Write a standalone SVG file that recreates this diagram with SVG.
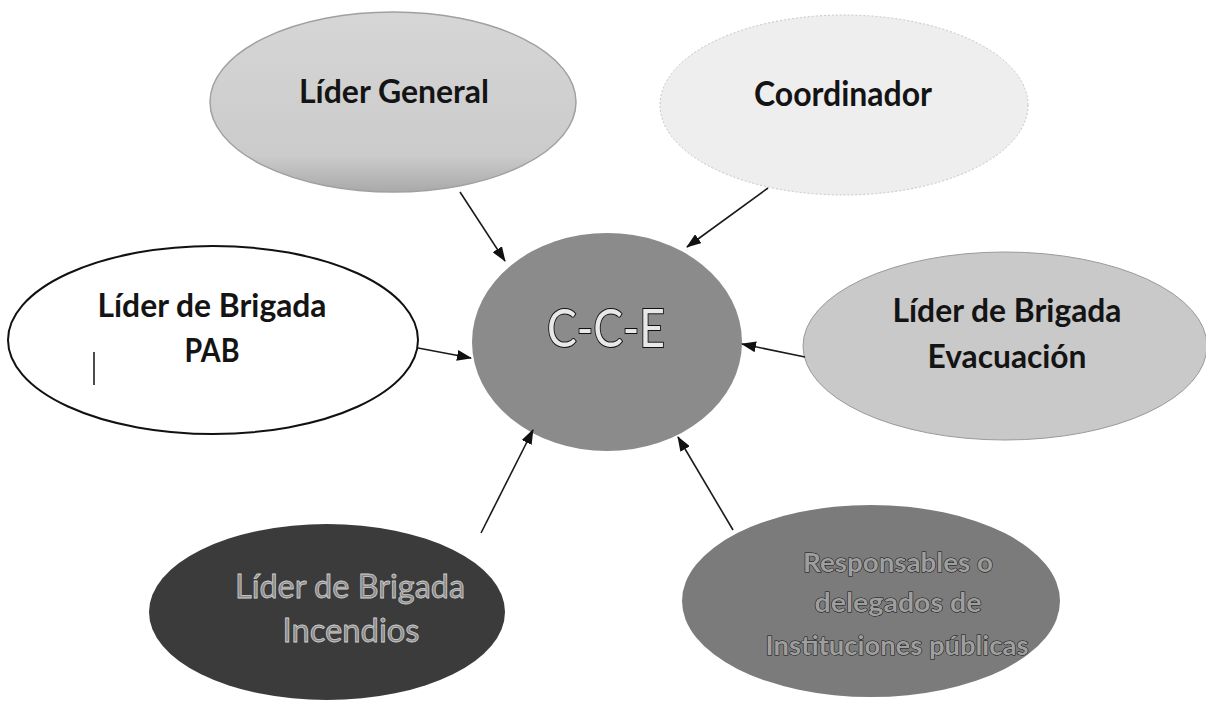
<svg xmlns="http://www.w3.org/2000/svg" width="1206" height="713" viewBox="0 0 1206 713">
<defs>
<marker id="ah" viewBox="0 0 15 11" refX="14" refY="5.5" markerWidth="15" markerHeight="11" markerUnits="userSpaceOnUse" orient="auto">
<path d="M0,0 L15,5.5 L0,11 z" fill="#111"/>
</marker>
<linearGradient id="gGen" x1="0" y1="0" x2="0" y2="1">
<stop offset="0" stop-color="#d6d6d6"/>
<stop offset="0.8" stop-color="#cbcbcb"/>
<stop offset="1" stop-color="#a9a9a9"/>
</linearGradient>
<style>
.lbl{font-family:Lato,"Open Sans","Liberation Sans",sans-serif;font-weight:bold;text-anchor:middle;}
.dark{fill:#141414;}
.outl{stroke:#111;stroke-width:1;paint-order:stroke;}
.conn line{stroke:#1a1a1a;stroke-width:1.6;marker-end:url(#ah);}
</style>
</defs>
<rect width="1206" height="713" fill="#ffffff"/>
<g id="lider-general">
<ellipse cx="393" cy="102" rx="183" ry="90" fill="url(#gGen)" stroke="#a0a0a0" stroke-width="1.5"/>
<text class="lbl dark" x="394" y="103" font-size="33" textLength="190" lengthAdjust="spacingAndGlyphs">Líder General</text>
</g>
<g id="coordinador">
<ellipse cx="844" cy="105" rx="184" ry="90" fill="#eeeeee" stroke="#c4c4c4" stroke-width="1" stroke-dasharray="2 2"/>
<text class="lbl dark" x="843" y="106" font-size="34" textLength="178" lengthAdjust="spacingAndGlyphs">Coordinador</text>
</g>
<g id="lider-pab">
<ellipse cx="213" cy="340" rx="205" ry="94" fill="#ffffff" stroke="#111" stroke-width="2"/>
<text class="lbl dark" x="212" y="317" font-size="33" textLength="229" lengthAdjust="spacingAndGlyphs">Líder de Brigada</text>
<text class="lbl dark" x="212" y="362" font-size="33" textLength="55" lengthAdjust="spacingAndGlyphs">PAB</text>
<line x1="94" y1="352" x2="94" y2="385" stroke="#111" stroke-width="1.5"/>
</g>
<g id="cce">
<ellipse cx="607" cy="342" rx="135" ry="109" fill="#8b8b8b"/>
<text class="lbl" x="606" y="347" font-size="52" fill="#e8e8e8" stroke="#111" stroke-width="2" paint-order="stroke" textLength="118" lengthAdjust="spacingAndGlyphs" style="font-weight:normal">C-C-E</text>
</g>
<g id="lider-evacuacion">
<ellipse cx="1005" cy="346" rx="202" ry="94" fill="#c9c9c9" stroke="#9a9a9a" stroke-width="1"/>
<text class="lbl dark" x="1007" y="322" font-size="33" textLength="229" lengthAdjust="spacingAndGlyphs">Líder de Brigada</text>
<text class="lbl dark" x="1007" y="368" font-size="33" textLength="159" lengthAdjust="spacingAndGlyphs">Evacuación</text>
</g>
<g id="lider-incendios">
<ellipse cx="327" cy="612" rx="178" ry="88" fill="#3b3b3b"/>
<text class="lbl" x="350" y="598" font-size="33" fill="#8a8a8a" stroke="#d0d0d0" stroke-width="0.8" textLength="230" lengthAdjust="spacingAndGlyphs" style="font-weight:normal">Líder de Brigada</text>
<text class="lbl" x="351" y="642" font-size="33" fill="#8a8a8a" stroke="#d0d0d0" stroke-width="0.8" textLength="137" lengthAdjust="spacingAndGlyphs" style="font-weight:normal">Incendios</text>
</g>
<g id="responsables">
<ellipse cx="871" cy="601" rx="189" ry="96" fill="#7b7b7b"/>
<text class="lbl outl" x="898" y="572" font-size="26" fill="#9e9e9e" stroke-width="2.4" textLength="190" lengthAdjust="spacingAndGlyphs">Responsables o</text>
<text class="lbl outl" x="898" y="612" font-size="26" fill="#9e9e9e" stroke-width="2.4" textLength="167" lengthAdjust="spacingAndGlyphs">delegados de</text>
<text class="lbl outl" x="897" y="655" font-size="26" fill="#9e9e9e" stroke-width="2.4" textLength="263" lengthAdjust="spacingAndGlyphs">Instituciones públicas</text>
</g>
<g id="connectors" class="conn">
<line x1="460" y1="192" x2="505" y2="261"/>
<line x1="768" y1="188" x2="687" y2="247"/>
<line x1="418" y1="348" x2="471" y2="358"/>
<line x1="805" y1="357" x2="742" y2="344"/>
<line x1="481" y1="533" x2="533" y2="430"/>
<line x1="733" y1="530" x2="678" y2="437"/>
</g>
</svg>
